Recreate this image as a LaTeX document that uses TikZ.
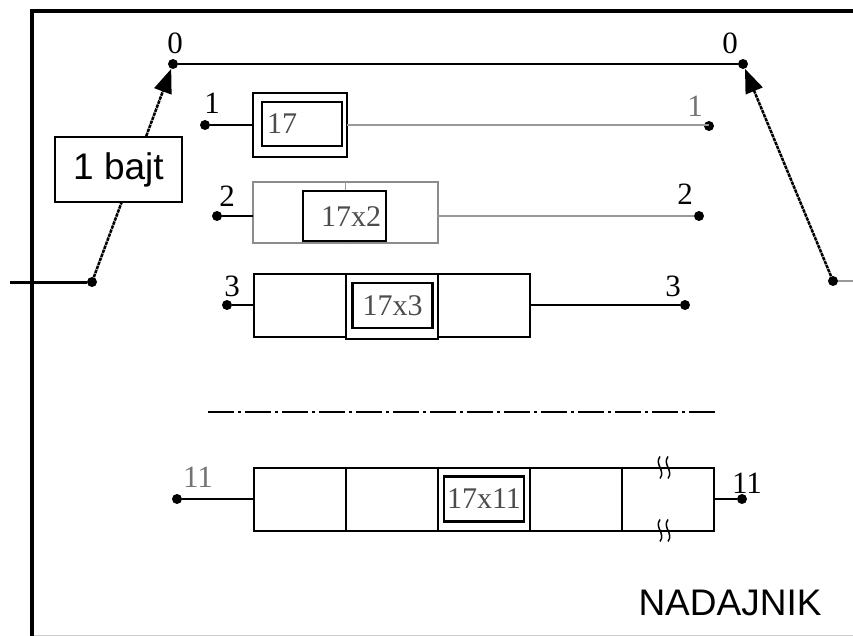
\documentclass[tikz,border=0pt]{standalone}
\usepackage{fontspec}
\setmainfont{Liberation Serif}
\newfontfamily\labelsans{Liberation Sans}
\usetikzlibrary{arrows.meta, positioning}
\tikzset{
  % Terminal point of a channel.
  dot/.style={circle, fill=black, inner sep=0pt, minimum size=10pt},
  % Channel number beside a terminal.
  num/.style={font=\fontsize{31}{31}\selectfont, inner sep=0pt},
  num-gray/.style={num, text=black!55},
  % One byte cell of a delay line.
  cell/.style={
    rectangle, draw=black, line width=2pt, outer sep=0pt,
    inner sep=0pt, minimum width=92pt, minimum height=63pt,
  },
  cell-gray/.style={cell, draw=black!45},
  % Boxed delay value inside a cell.
  delay/.style={
    rectangle, draw=black, line width=2.2pt, fill=white, outer sep=0pt,
    inner sep=0pt, minimum width=80pt, minimum height=45pt,
  },
  delay-text/.style={font=\fontsize{30}{30}\selectfont, text=black!70, inner sep=0pt},
  % Wires.
  wire/.style={line width=2pt, draw=black},
  wire-gray/.style={line width=2.5pt, draw=black!40},
  % Commutator arms.
  arm/.style={
    -{Triangle[length=24pt, width=18pt]},
    line width=2.5pt, dash pattern=on 3.5pt off 0.8pt,
  },
  % Break mark on a long cell.
  break-mark/.pic={
    \draw[line width=1.5pt] (-4,-11) .. controls (-10,-3) and (2,3) .. (-4,11);
    \draw[line width=1.5pt] ( 4,-11) .. controls (-2,-3) and (10,3) .. ( 4,11);
  },
}

\begin{document}
\begin{tikzpicture}[x=1pt, y=-1pt]
  \useasboundingbox (0,0) rectangle (853,636);

  % Frame of the transmitter.
  \draw[black!20, line width=1pt] (32,635) -- (853,635);
  \draw[line width=4pt] (32,636) -- (32,11) -- (853,11);

  % Commutator terminals.
  \node[dot] (in)  at (92,282)  {};
  \node[dot] (l0)  at (173,64)  {};
  \node[dot] (r0)  at (743,64)  {};
  \node[dot] (out) at (833,281) {};
  \coordinate (src) at (10,282);
  \coordinate (dst) at (853,281);
  \node[num] at (175,43) {0};
  \node[num] at (730,43) {0};

  \draw[line width=3pt] (src) -- (in);
  \draw[wire-gray] (out) -- (dst);
  \draw[wire, line width=2.2pt] (l0) -- (r0);

  % Arms.
  \draw[arm] (in) -- (l0);
  \draw[arm] (out) -- (r0);
  \node[rectangle, draw=black, line width=2pt, fill=white,
        minimum width=127pt, minimum height=65pt,
        font=\labelsans\fontsize{37}{37}\selectfont] (byte) at (118.5,169.5) {1 bajt};

  % Channel 1.
  \node[dot] (a1) at (205,125) {};
  \node[dot] (b1) at (709,126) {};
  \node[num] at (212,103) {1};
  \node[num-gray] at (695,106) {1};
  \node[cell, minimum width=94pt, minimum height=64pt] (c1) at (300,125) {};
  \node[delay, minimum width=80pt, minimum height=44pt] (d1) at (302,124) {};
  \node[delay-text, anchor=west] at (267,124) {17};
  \draw[wire] (a1) -- (a1 -| c1.west);
  \draw[wire-gray] (c1.east) -- (c1.east -| b1);

  % Channel 2.
  \node[dot] (a2) at (217,216) {};
  \node[dot] (b2) at (699,216) {};
  \node[num] at (227,196) {2};
  \node[num] at (685,194) {2};
  \node[cell-gray, minimum width=185pt, minimum height=61pt] (c2) at (345.5,212.5) {};
  \draw[wire-gray, line width=1.8pt] (c2.north) -- (c2.south);
  \node[delay, minimum width=83pt, minimum height=50pt] (d2) at (344.5,216) {};
  \node[delay-text] at (351,217) {17x2};
  \draw[wire] (a2) -- (a2 -| c2.west);
  \draw[wire-gray] (b2 -| c2.east) -- (b2);

  % Channel 3.
  \node[dot] (a3) at (227,305) {};
  \node[dot] (b3) at (685,305) {};
  \node[num] at (232,286) {3};
  \node[num] at (673,286) {3};
  \node[cell] (c3a) at (299.5,305) {};
  \node[cell, minimum height=65pt, anchor=north west] (c3b) at (c3a.north east) {};
  \node[cell, anchor=north west] (c3c) at (c3b.north east) {};
  \node[delay] (d3) at (392.5,305.5) {};
  \node[delay-text] at (d3) {17x3};
  \draw[wire] (a3) -- (c3a.west);
  \draw[wire] (c3c.east) -- (b3);

  % Further channels omitted.
  \coordinate (gap-l) at (208,412);
  \coordinate (gap-r) at (718,412);
  \draw[line width=2.2pt, dash pattern=on 26pt off 4pt on 3pt off 4pt] (gap-l) -- (gap-r);

  % Channel 11.
  \node[dot] (a11) at (177,499) {};
  \node[dot] (b11) at (742,499) {};
  \node[num-gray] at (198,477) {11};
  \node[num] at (747,483) {11};
  \node[cell] (c11a) at (300,499) {};
  \node[cell, right=0pt of c11a] (c11b) {};
  \node[cell, right=0pt of c11b] (c11c) {};
  \node[cell, right=0pt of c11c] (c11d) {};
  \node[cell, right=0pt of c11d] (c11e) {};
  \node[delay] (d11) at (c11c) {};
  \node[delay-text] at (d11) {17x11};
  \draw[wire] (a11) -- (c11a.west);
  \draw[wire] (c11e.east) -- (b11);
  \pic at ([xshift=-4pt]c11e.north) {break-mark};
  \pic at ([xshift=-4pt]c11e.south) {break-mark};

  \node[font=\labelsans\fontsize{37}{37}\selectfont] (tx) at (730,603) {NADAJNIK};
\end{tikzpicture}
\end{document}
